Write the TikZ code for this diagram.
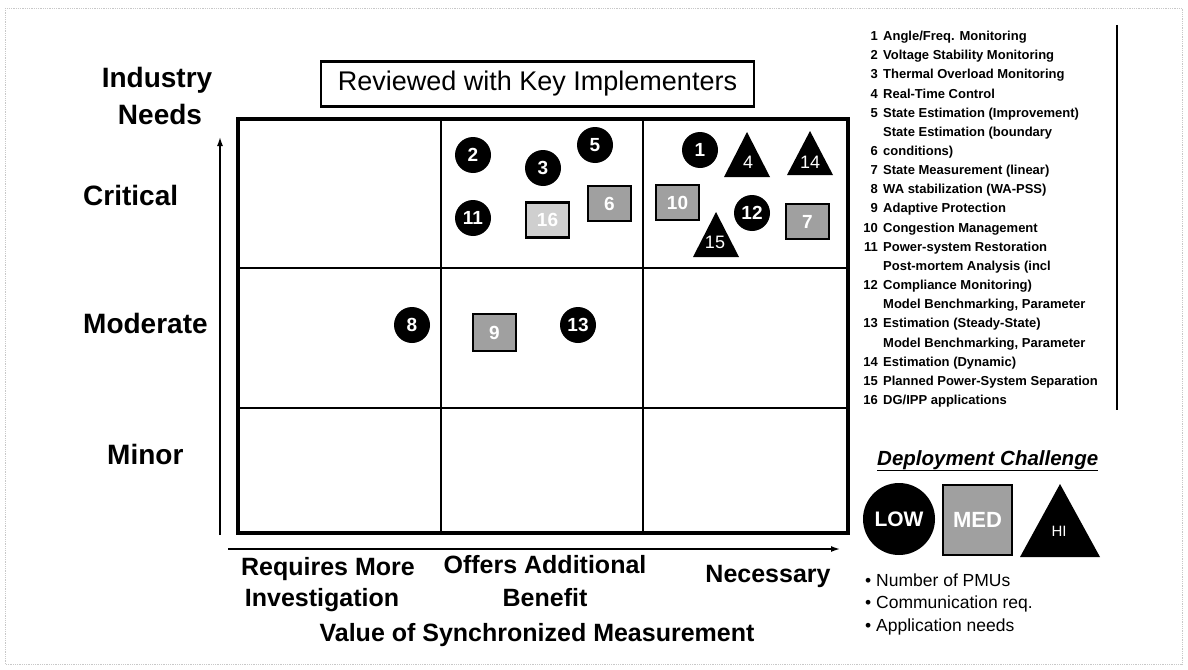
\documentclass[tikz,border=0pt]{standalone}
\usepackage{fontspec}
\setmainfont{Liberation Sans}
\usetikzlibrary{arrows.meta}
\definecolor{medgray}{HTML}{A0A0A0}
\definecolor{ltgray}{HTML}{CFCFCF}
\definecolor{framegray}{HTML}{C8C8C8}
\newcommand{\hitri}[4]{\fill[black] (#1-#3/2,#2+#4) -- (#1,#2) -- (#1+#3/2,#2+#4) -- cycle;}
\begin{document}
\begin{tikzpicture}[x=1pt,y=-1pt,
  lab/.style={font=\fontsize{28}{32}\selectfont\bfseries, inner sep=0},
  axl/.style={font=\fontsize{25}{28}\selectfont\bfseries, inner sep=0},
  lowc/.style={circle, fill=black, text=white, minimum size=36pt, inner sep=0, font=\fontsize{19}{19}\selectfont\bfseries},
  medsq/.style={rectangle, draw=black, line width=2.5pt, fill=medgray, text=white, minimum width=43pt, minimum height=35pt, inner sep=0, font=\fontsize{19}{19}\selectfont\bfseries},
  trinum/.style={text=white, inner sep=0, font=\fontsize{18}{18}\selectfont},
  leg/.style={font=\fontsize{13}{13}\selectfont\bfseries, inner sep=0, anchor=base west},
  legn/.style={font=\fontsize{13}{13}\selectfont\bfseries, inner sep=0, anchor=base east},
  bul/.style={font=\fontsize{17.5}{20}\selectfont, inner sep=0, anchor=base west},
  gridouter/.style={line width=4pt},
  gridinner/.style={line width=2pt},
  axis/.style={line width=1.5pt, -{Latex[length=9pt,width=6pt]}},
]
\useasboundingbox (0,0) rectangle (1188,669);
% outer frame
\draw[framegray, densely dotted, line width=0.8pt] (5,8) rectangle (1182,664);

% grid
\draw[gridinner] (441,119) -- (441,533);
\draw[gridinner] (643,119) -- (643,533);
\draw[gridinner] (238,268) -- (848,268);
\draw[gridinner] (238,408) -- (848,408);
\draw[gridouter] (238,119) rectangle (848,533);

% axes
\coordinate (ya0) at (220,535);
\coordinate (ya1) at (220,137);
\draw[axis] (ya0) -- (ya1);
\coordinate (xa0) at (228,549);
\coordinate (xa1) at (840,549);
\draw[axis] (xa0) -- (xa1);

% title box
\node[draw, line width=2.5pt, minimum width=433pt, minimum height=45pt, inner sep=0, font=\fontsize{27}{30}\selectfont] (rev) at (537.5,84) {Reviewed with Key Implementers};

% y labels
\node[lab, anchor=base] (ind) at (157,87) {Industry};
\node[lab, anchor=base] (need) at (160,124) {Needs};
\node[lab, anchor=base west] (crit) at (83,205) {Critical};
\node[lab, anchor=base west] (mod) at (83,333) {Moderate};
\node[lab, anchor=base west] (min) at (107,464) {Minor};

% x labels
\node[axl, anchor=base] (req1) at (328,575) {Requires More};
\node[axl, anchor=base] (req2) at (322,606) {Investigation};
\node[axl, anchor=base] (off1) at (545,573) {Offers Additional};
\node[axl, anchor=base] (off2) at (545,606) {Benefit};
\node[axl, anchor=base] (nec) at (768,582) {Necessary};
\node[axl, anchor=base] (val) at (537,641) {Value of Synchronized Measurement};

% items: low (circles)
\node[lowc] (c2) at (473,155) {2};
\node[lowc] (c3) at (543,168) {3};
\node[lowc] (c5) at (595,145) {5};
\node[lowc] (c1) at (700,150) {1};
\node[lowc] (c11) at (473,218) {11};
\node[lowc] (c12) at (752,213) {12};
\node[lowc] (c8) at (412,325) {8};
\node[lowc] (c13) at (578,325) {13};

% items: medium (squares)
\node[medsq, fill=ltgray] (s16) at (547.5,220) {16};
\node[medsq] (s6) at (609.5,203.5) {6};
\node[medsq] (s10) at (677.5,202.5) {10};
\node[medsq] (s7) at (807.5,221.5) {7};
\node[medsq, minimum height=37pt] (s9) at (494.5,332.5) {9};

% items: high (triangles)
\hitri{747}{132}{46}{45}
\node[trinum] (t4) at (748,162) {4};
\hitri{810}{131}{46}{44}
\node[trinum] (t14) at (810,162) {14};
\hitri{716}{212}{46}{45}
\node[trinum] (t15) at (715,242) {15};

% numbered list
\node[legn] (n1) at (878,40.5) {1};   \node[leg] (l1) at (883,40.5) {Angle/Freq. Monitoring};
\node[legn] (n2) at (878,59.7) {2};   \node[leg] (l2) at (883,59.7) {Voltage Stability Monitoring};
\node[legn] (n3) at (878,78.8) {3};   \node[leg] (l3) at (883,78.8) {Thermal Overload Monitoring};
\node[legn] (n4) at (878,98.0) {4};   \node[leg] (l4) at (883,98.0) {Real-Time Control};
\node[legn] (n5) at (878,117.1) {5};  \node[leg] (l5) at (883,117.1) {State Estimation (Improvement)};
\node[leg] (l6a) at (883,136.3) {State Estimation (boundary};
\node[legn] (n6) at (878,155.5) {6};  \node[leg] (l6) at (883,155.5) {conditions)};
\node[legn] (n7) at (878,174.6) {7};  \node[leg] (l7) at (883,174.6) {State Measurement (linear)};
\node[legn] (n8) at (878,193.8) {8};  \node[leg] (l8) at (883,193.8) {WA stabilization (WA-PSS)};
\node[legn] (n9) at (878,212.9) {9};  \node[leg] (l9) at (883,212.9) {Adaptive Protection};
\node[legn] (n10) at (878,232.1) {10}; \node[leg] (l10) at (883,232.1) {Congestion Management};
\node[legn] (n11) at (878,251.3) {11}; \node[leg] (l11) at (883,251.3) {Power-system Restoration};
\node[leg] (l12a) at (883,270.4) {Post-mortem Analysis (incl};
\node[legn] (n12) at (878,289.6) {12}; \node[leg] (l12) at (883,289.6) {Compliance Monitoring)};
\node[leg] (l13a) at (883,308.7) {Model Benchmarking, Parameter};
\node[legn] (n13) at (878,327.9) {13}; \node[leg] (l13) at (883,327.9) {Estimation (Steady-State)};
\node[leg] (l14a) at (883,347.1) {Model Benchmarking, Parameter};
\node[legn] (n14) at (878,366.2) {14}; \node[leg] (l14) at (883,366.2) {Estimation (Dynamic)};
\node[legn] (n15) at (878,385.4) {15}; \node[leg] (l15) at (883,385.4) {Planned Power-System Separation};
\node[legn] (n16) at (878,404.5) {16}; \node[leg] (l16) at (883,404.5) {DG/IPP applications};
\coordinate (lv0) at (1117,25);
\coordinate (lv1) at (1117,410);
\draw[line width=2pt] (lv0) -- (lv1);

% deployment challenge legend
\node[font=\fontsize{20.5}{22}\selectfont\bfseries\itshape, anchor=base west, inner sep=0] (dep) at (877,465) {\underline{Deployment Challenge}};
\node[lowc, minimum size=72pt, font=\fontsize{21}{21}\selectfont\bfseries] (low) at (899,519) {LOW};
\node[medsq, minimum width=69pt, minimum height=70pt, font=\fontsize{22}{22}\selectfont\bfseries] (med) at (977.5,520) {MED};
\hitri{1060}{484}{80}{73}
\node[trinum, font=\fontsize{15}{15}\selectfont] (hi) at (1059,531) {HI};
\node[bul] (b1) at (865,586) {• Number of PMUs};
\node[bul] (b2) at (865,608) {• Communication req.};
\node[bul] (b3) at (865,631) {• Application needs};
\end{tikzpicture}
\end{document}
